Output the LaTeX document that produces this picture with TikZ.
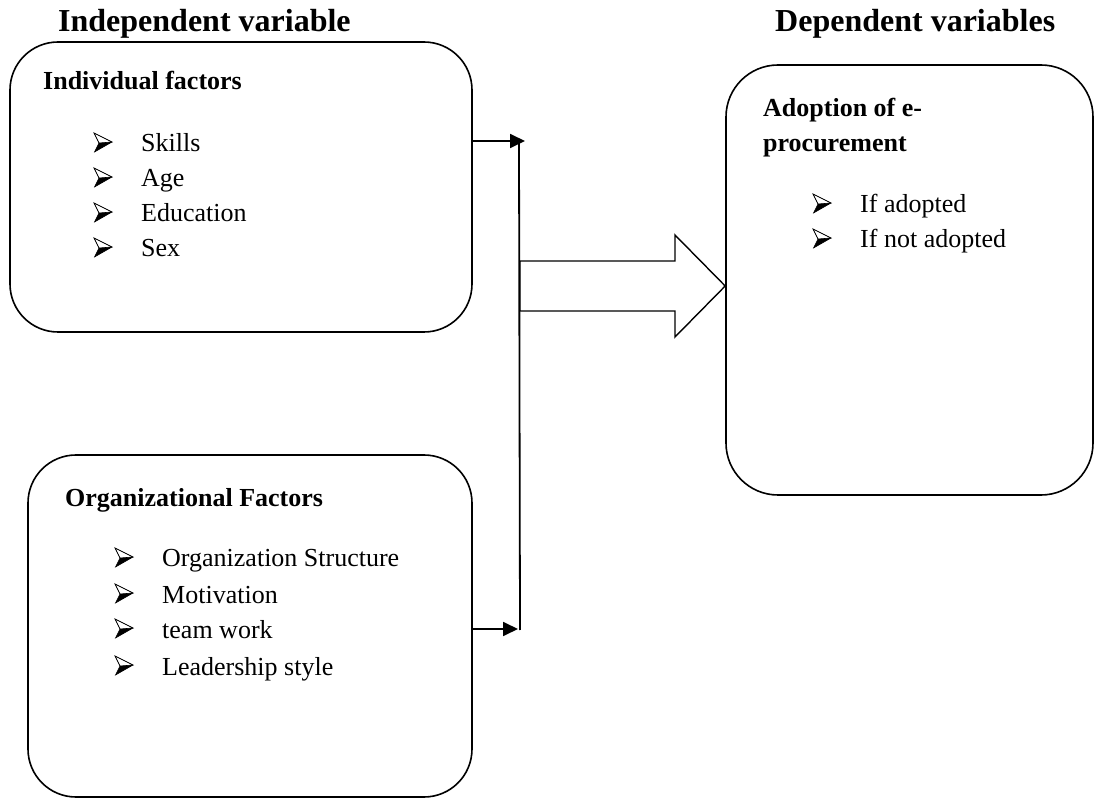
\documentclass[tikz,border=0pt]{standalone}
\usepackage{fontspec}
\setmainfont{Liberation Serif}
\usetikzlibrary{arrows.meta}
\tikzset{
  factorbox/.style={draw, line width=1.6pt, rounded corners=48pt, inner sep=0pt},
  ttl/.style={anchor=base west, inner sep=0pt, font=\fontsize{32}{38}\selectfont\bfseries},
  hdr/.style={anchor=base west, inner sep=0pt, font=\fontsize{26}{35}\selectfont\bfseries, align=left},
  itm/.style={anchor=base west, inner sep=0pt, font=\fontsize{26}{31}\selectfont},
  conn/.style={line width=1.8pt},
  tipconn/.style={line width=1.8pt, -{Triangle[length=15pt,width=14pt]}},
  arrowbullet/.pic={
    \draw[line width=0.6pt, line join=miter, fill=white] (0,-19) -- (18,-10) -- (5,-9) -- cycle;
    \fill[black] (5,-9) -- (18,-10) -- (0.5,0) -- cycle;
    \draw[line width=0.6pt, line join=miter] (0,-19) -- (18,-10) -- (0.5,0) -- (5,-9) -- cycle;
  },
}
\newcommand{\bitem}[4]{%
  \pic at (#2,#4) {arrowbullet};
  \node[itm] (#1) at (#2+47,#4) {#3};
}
\begin{document}
\begin{tikzpicture}[x=1pt,y=-1pt]
\useasboundingbox (0,0) rectangle (1096,799);
% titles
\node[ttl] (indep) at (58,32) {Independent variable};
\node[ttl] (dep) at (775,32) {Dependent variables};
% boxes
\node[factorbox, minimum width=462pt, minimum height=290pt] (box1) at (241,187) {};
\node[factorbox, minimum width=444pt, minimum height=342pt] (box2) at (250,626) {};
\node[factorbox, minimum width=367pt, minimum height=430pt, rounded corners=52pt] (box3) at (909.5,280) {};
% box 1 text
\node[hdr] (h1) at (43,90) {Individual factors};
\bitem{s1}{94}{Skills}{152}
\bitem{s2}{94}{Age}{187}
\bitem{s3}{94}{Education}{222}
\bitem{s4}{94}{Sex}{257}
% box 2 text
\node[hdr] (h2) at (65,507) {Organizational Factors};
\bitem{o1}{115}{Organization Structure}{567}
\bitem{o2}{115}{Motivation}{603}
\bitem{o3}{115}{team work}{638}
\bitem{o4}{115}{Leadership style}{675}
% box 3 text
\node[hdr] (h3a) at (763,117) {Adoption of e-};
\node[hdr] (h3b) at (763,152) {procurement};
\bitem{d1}{813}{If adopted}{213}
\bitem{d2}{813}{If not adopted}{248}
% connectors
\coordinate (t1) at (525,141);
\coordinate (t2) at (518,629);
\coordinate (vtop) at (519,143);
\coordinate (vbot) at (520,630);
\draw[tipconn] (box1.east |- t1) -- (t1);
\draw[tipconn] (box2.east |- t2) -- (t2);
\draw[conn] (vtop) -- (vbot);
% block arrow
\draw[line width=1.4pt, line join=miter] (520,261) -- (675,261) -- (675,235) -- (box3.west |- 0,286) -- (675,337) -- (675,311) -- (520,311) -- cycle;
\end{tikzpicture}
\end{document}
